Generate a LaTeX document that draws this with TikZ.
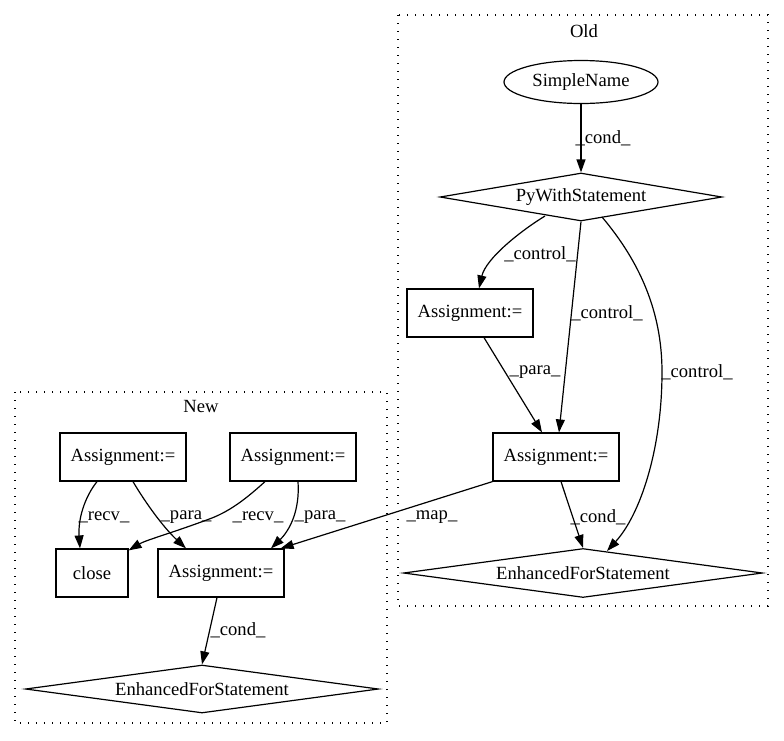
\documentclass[tikz,border=0pt]{standalone}
\usepackage{fontspec}
\setmainfont{Liberation Serif}
\usetikzlibrary{shapes.geometric,arrows.meta,calc}
\begin{document}
\begin{tikzpicture}[x=1pt,y=-1pt,
  every node/.style={font=\fontsize{18.6}{22}\selectfont, inner sep=0pt},
  box/.style={draw, line width=1.2pt, rectangle, minimum width=126pt, minimum height=48pt},
  ell/.style={draw, line width=1.2pt, ellipse, minimum width=154pt, minimum height=43pt},
  dia/.style={draw, line width=1.2pt, diamond, aspect=6},
  arr/.style={line width=1.2pt, -{Triangle[length=13pt,width=9pt]}},
  clus/.style={draw, line width=1.3pt, dash pattern=on 1.3pt off 6.7pt}
]
\useasboundingbox (0,0) rectangle (784,740);
% clusters
\draw[clus] (398,15) rectangle (768,606);
\node (oldlbl) at (584,31) {Old};
\draw[clus] (15,392) rectangle (387,723);
\node (newlbl) at (201,406) {New};

% Old nodes
\node[ell] (sn) at (581,82) {SimpleName};
\node[dia, minimum width=282pt, minimum height=48pt] (pw) at (581,197) {PyWithStatement};
\node[box] (oa1) at (470,313) {Assignment:=};
\node[box] (oa2) at (556,457) {Assignment:=};
\node[dia, minimum width=359pt, minimum height=49pt] (oefs) at (583,573) {EnhancedForStatement};

% New nodes
\node[box] (na1) at (123,457) {Assignment:=};
\node[box] (na2) at (293,457) {Assignment:=};
\node[box, minimum width=72pt] (cl) at (92,573) {close};
\node[box] (na3) at (221,573) {Assignment:=};
\node[dia, minimum width=353pt, minimum height=48pt] (nefs) at (202,689) {EnhancedForStatement};

% Old edges
\draw[arr] (sn) -- (pw) node[at={(603,138)}] {\_cond\_};
\draw[arr] ($(pw)+(-36,19)$) .. controls (522,230) and (486,258) .. ($(oa1.north)+(9,0)$)
  node[at={(540,254)}] {\_control\_};
\draw[arr] (pw.south) -- ($(oa2.north)+(3,0)$) node[at={(607,313)}] {\_control\_};
\draw[arr] ($(pw)+(21,20)$) .. controls (640,262) and (662,312) .. (662,372)
  .. controls (662,450) and (640,515) .. ($(oefs)+(24,-22)$)
  node[at={(697,372)}] {\_control\_};
\draw[arr] ($(oa1.south)+(14,0)$) -- ($(oa2.north)+(-14,0)$) node[at={(535,372)}] {\_para\_};
\draw[arr] ($(oa2.south)+(5,0)$) -- (oefs.north) node[at={(598,517)}] {\_cond\_};
\draw[arr] (oa2.south west) -- ($(na3.north east)+(-4,0)$) node[at={(432,517)}] {\_map\_};

% New edges
\draw[arr] ($(na1.south)+(-26,0)$) .. controls (84,498) and (78,520) .. ($(cl.north)+(-12,0)$)
  node[at={(104,517)}] {\_recv\_};
\draw[arr] ($(na1.south)+(10,0)$) .. controls (145,502) and (163,527) .. ($(na3.north)+(-35,0)$)
  node[at={(186,517)}] {\_para\_};
\draw[arr] ($(na2.south)+(-28,0)$) .. controls (248,497) and (232,510) .. (212,518)
  .. controls (172,533) and (146,540) .. ($(cl.north east)+(0,2)$)
  node[at={(258,517)}] {\_recv\_};
\draw[arr] ($(na2.south)+(5,0)$) .. controls (300,510) and (290,530) .. ($(na3.north)+(50,0)$)
  node[at={(320,517)}] {\_para\_};
\draw[arr] ($(na3.south)+(-4,0)$) -- (nefs.north) node[at={(238,630)}] {\_cond\_};
\end{tikzpicture}
\end{document}
